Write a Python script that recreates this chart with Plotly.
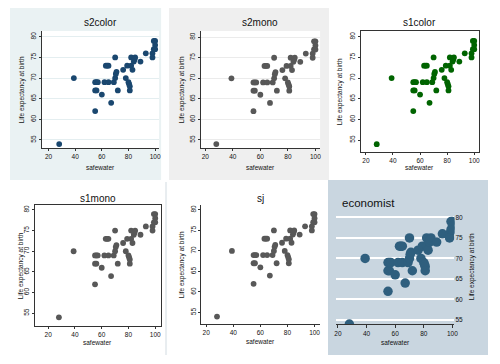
import plotly.graph_objects as go

# ---- data ----
safewater = [28, 39, 55, 55, 56, 55, 56, 57, 60, 62, 65, 63, 64, 65, 67, 70, 69, 70,
             70.5, 71, 72, 76, 78, 79, 80, 80.5, 81, 81, 82, 85, 82, 83, 84, 84.5,
             89, 93, 98, 98, 99, 100, 99, 100, 100]
lexp = [54, 70, 62, 67, 67, 69, 69, 69, 66, 69, 69, 73, 73, 73, 64, 75, 69, 70,
        71, 71.5, 67, 72, 70, 73, 69, 68.5, 68, 67, 75, 75, 73, 72, 74, 74.5,
        74, 76, 76, 75, 77, 79, 79, 78, 77]
x_ticks = [20, 40, 60, 80, 100]
y_ticks = [55, 60, 65, 70, 75, 80]
scheme_names = ["s2color", "s2mono", "s1color", "s1mono", "sj", "economist"]
x_title = "safewater"
y_title = "Life expectancy at birth"

# page has an 8px body margin: the figure is drawn at (8, 8)
OFF = 8
W, H = 484, 348
FONT = "Liberation Sans, Arial, sans-serif"

def px(x):
    return (x - OFF) / W

def py(y):
    return 1 - (y - OFF) / H

panels = [
    dict(name=scheme_names[0], panel=(8, 8, 161, 180), panel_bg="#eaf2f3", plot=(40, 31, 159, 148),
         xr=(14.8, 103.0), yr=(53.06, 81.4), color="#1a476f", size=5.8,
         grid="#e4eef0", frame=False, title_y=22, ytitle_x=20, xtitle_y=167),
    dict(name=scheme_names[1], panel=(169, 8, 331, 180), panel_bg="#efefef", plot=(201, 31, 322, 148),
         xr=(16.6, 103.4), yr=(53.05, 81.5), color="#585858", size=5.8,
         grid="#ebebeb", frame=False, title_y=22, ytitle_x=182, xtitle_y=167),
    dict(name=scheme_names[2], panel=None, panel_bg=None, plot=(363, 31, 483, 152),
         xr=(16.1, 103.6), yr=(52.1, 81.4), color="#006400", size=5.8,
         grid=None, frame=True, title_y=22, ytitle_x=343, xtitle_y=167),
    dict(name=scheme_names[3], panel=None, panel_bg=None, plot=(33, 205, 161, 326),
         xr=(9.9, 104.4), yr=(51.9, 81.2), color="#585858", size=5.8,
         grid=None, frame=True, title_y=198, ytitle_x=19, xtitle_y=342),
    dict(name=scheme_names[4], panel=None, panel_bg=None, plot=(201.7, 205, 322, 324),
         xr=(16.4, 104.1), yr=(52.2, 81.2), color="#585858", size=5.8,
         grid=None, frame=False, title_y=198, ytitle_x=182, xtitle_y=341),
]

fig = go.Figure()
shapes = []
annotations = []
tickfont = dict(family=FONT, size=6.5, color="#111111")
TITLE_SIZE = 10
AXT_SIZE = 6.5

for i, p in enumerate(panels, start=1):
    xa = "x" if i == 1 else f"x{i}"
    ya = "y" if i == 1 else f"y{i}"
    x0, y0, x1, y1 = p["plot"]
    if p["panel"]:
        a, b, c, d = p["panel"]
        shapes.append(dict(type="rect", xref="paper", yref="paper", x0=px(a), x1=px(c),
                           y0=py(d), y1=py(b), fillcolor=p["panel_bg"], line=dict(width=0),
                           layer="below"))
        shapes.append(dict(type="rect", xref="paper", yref="paper", x0=px(x0), x1=px(x1),
                           y0=py(y1), y1=py(y0), fillcolor="white", line=dict(width=0),
                           layer="below"))
    fig.add_trace(go.Scatter(x=safewater, y=lexp, mode="markers", xaxis=xa, yaxis=ya,
                             marker=dict(color=p["color"], size=p["size"], line=dict(width=0)),
                             showlegend=False, hoverinfo="skip"))
    axcommon = dict(showline=True, linecolor="#333333", linewidth=1, ticks="outside",
                    ticklen=2, tickcolor="#333333", tickwidth=1, zeroline=False,
                    tickfont=tickfont, mirror=p["frame"])
    fig.layout[("xaxis" if i == 1 else f"xaxis{i}")] = dict(
        domain=[px(x0), px(x1)], range=list(p["xr"]), anchor=ya, tickmode="array",
        tickvals=x_ticks, showgrid=False, **axcommon)
    fig.layout[("yaxis" if i == 1 else f"yaxis{i}")] = dict(
        domain=[py(y1), py(y0)], range=list(p["yr"]), anchor=xa, tickmode="array",
        tickvals=y_ticks, tickangle=-90, showgrid=p["grid"] is not None,
        gridcolor=p["grid"] or "white", gridwidth=1, **axcommon)
    cx = (x0 + x1) / 2
    annotations.append(dict(text=p["name"], x=px(cx), y=py(p["title_y"]), xref="paper",
                            yref="paper", showarrow=False, xanchor="center", yanchor="middle",
                            font=dict(family=FONT, size=TITLE_SIZE, color="#111111")))
    annotations.append(dict(text=x_title, x=px(cx), y=py(p["xtitle_y"]), xref="paper",
                            yref="paper", showarrow=False, xanchor="center", yanchor="middle",
                            font=dict(family=FONT, size=AXT_SIZE, color="#111111")))
    annotations.append(dict(text=y_title, x=px(p["ytitle_x"]), y=py((y0 + y1) / 2),
                            xref="paper", yref="paper", showarrow=False, textangle=-90,
                            xanchor="center", yanchor="middle",
                            font=dict(family=FONT, size=AXT_SIZE, color="#111111")))

# ---- economist panel ----
ex0, ey0, ex1, ey1 = 338, 210, 458, 324
shapes.append(dict(type="rect", xref="paper", yref="paper", x0=px(330), x1=px(492),
                   y0=py(355), y1=py(180), fillcolor="#c9d6e0", line=dict(width=0),
                   layer="below"))
fig.add_trace(go.Scatter(x=safewater, y=lexp, mode="markers", xaxis="x6", yaxis="y6",
                         marker=dict(color="#2f5f7e", size=9.5, line=dict(width=0)),
                         showlegend=False, hoverinfo="skip"))
fig.layout["xaxis6"] = dict(domain=[px(ex0), px(ex1)], range=[18.6, 101.4], anchor="y6",
                            tickmode="array", tickvals=x_ticks, showgrid=False, zeroline=False,
                            showline=True, linecolor="#333333", linewidth=1, ticks="outside",
                            ticklen=3, tickcolor="#333333", tickfont=tickfont)
fig.layout["yaxis6"] = dict(domain=[py(ey1), py(ey0)], range=[54.03, 81.8], anchor="x6",
                            side="right", tickmode="array", tickvals=y_ticks, showgrid=True,
                            gridcolor="white", gridwidth=1.5, zeroline=False, showline=False,
                            ticks="", tickfont=tickfont)
annotations.append(dict(text=scheme_names[5], x=px(342), y=py(203), xref="paper", yref="paper",
                        showarrow=False, xanchor="left", yanchor="middle",
                        font=dict(family=FONT, size=11.5, color="#111111")))
annotations.append(dict(text=x_title, x=px(398), y=py(342), xref="paper", yref="paper",
                        showarrow=False, xanchor="center", yanchor="middle",
                        font=dict(family=FONT, size=AXT_SIZE, color="#111111")))
annotations.append(dict(text=y_title, x=px(476), y=py(267), xref="paper", yref="paper",
                        showarrow=False, textangle=-90, xanchor="center", yanchor="middle",
                        font=dict(family=FONT, size=AXT_SIZE, color="#111111")))

# faint divider near sj panel
shapes.append(dict(type="line", xref="paper", yref="paper", x0=px(166), x1=px(166),
                   y0=py(355), y1=py(182), line=dict(color="#e8edf0", width=2), layer="below"))

fig.update_layout(width=W, height=H, margin=dict(l=0, r=0, t=0, b=0),
                  paper_bgcolor="white", plot_bgcolor="rgba(0,0,0,0)",
                  shapes=shapes, annotations=annotations, showlegend=False)

fig.write_html("out.html")
